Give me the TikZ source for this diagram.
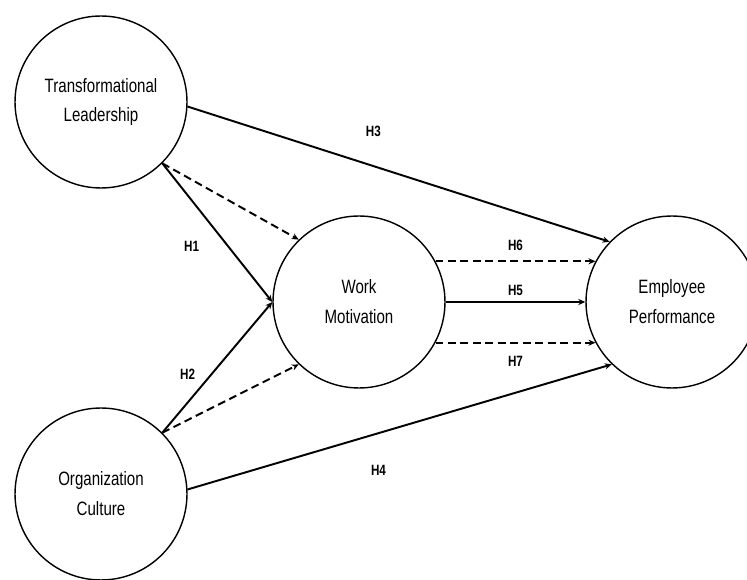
\documentclass[tikz,border=0pt]{standalone}
\usepackage{fontspec}
\setmainfont{Liberation Sans}[FakeStretch=0.78]
\usetikzlibrary{arrows.meta}

\begin{document}
\begin{tikzpicture}[x=0.02cm,y=-0.02cm,
		latent/.style={draw,circle,line width=0.8pt,minimum size=3.44cm,align=center,font=\fontsize{11}{17}\selectfont},
		hyp/.style={line width=1.1pt,-{Stealth[length=4pt,width=3.5pt]}},
		hypdash/.style={hyp,dash pattern=on 4.5pt off 2.6pt},
		hlabel/.style={font=\fontsize{8.5}{10}\selectfont\bfseries}]
		\useasboundingbox (0,0) rectangle (747,580);
		% constructs
		\node[latent] (tl) at (101,102) {Transformational\\Leadership};
		\node[latent] (wm) at (359,302) {Work\\Motivation};
		\node[latent] (oc) at (101,494) {Organization\\Culture};
		\node[latent] (ep) at (672,302) {Employee\\Performance};
		% direct paths
		\draw[hyp] (tl.-3) -- (ep.136) node[hlabel,pos=0.44,above=0.45cm] {H3};
		\draw[hyp] (oc.3) -- (ep.-134) node[hlabel,pos=0.45,below=0.5cm] {H4};
		\draw[hyp] (tl.-45) -- (wm.west) node[hlabel,pos=0.6,left=0.45cm] {H1};
		\draw[hyp] (oc.45) -- (wm.west) node[hlabel,pos=0.45,left=0.2cm] {H2};
		\draw[hyp] (wm.east) -- (ep.west) node[hlabel,midway,above=-0.5pt] {H5};
		% mediated paths
		\draw[hypdash] (tl.-45) -- (wm.134);
		\draw[hypdash] (oc.45) -- (wm.-134);
		\draw[hypdash] (wm.28) -- (ep.152) node[hlabel,midway,above=2pt] {H6};
		\draw[hypdash] (wm.-28) -- (ep.-152) node[hlabel,midway,below=4pt] {H7};
	\end{tikzpicture}
\end{document}
